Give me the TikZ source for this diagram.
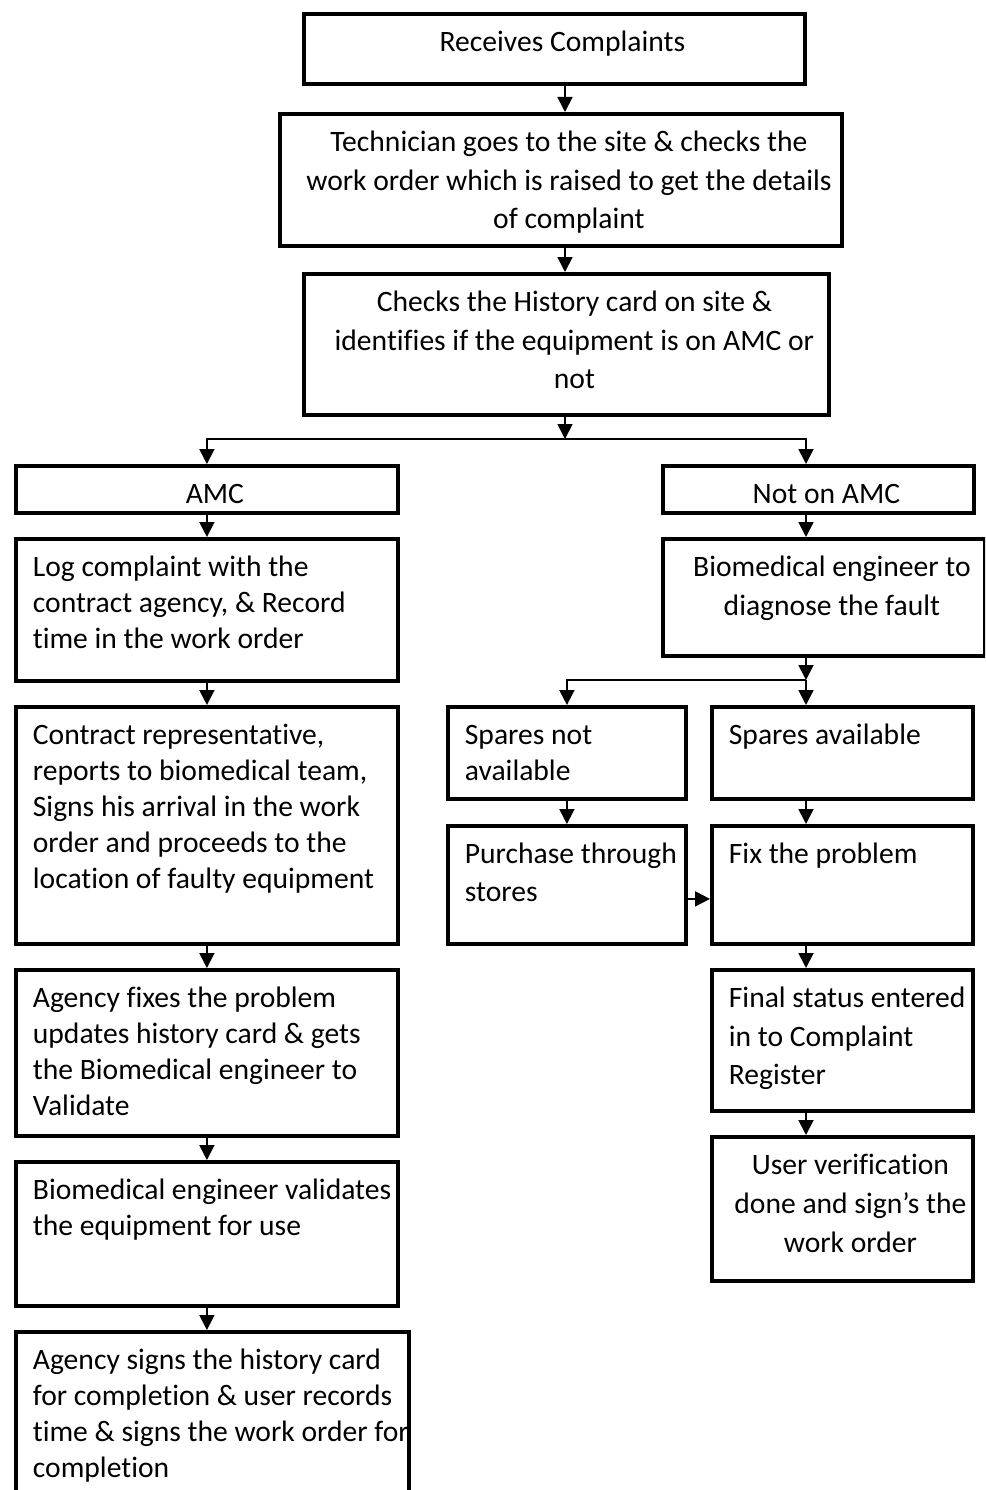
\documentclass[tikz,border=0pt]{standalone}
\usepackage{fontspec}
\setmainfont{Carlito}[Ligatures=NoCommon]
\usetikzlibrary{arrows.meta}

% text placement inside the boxes
\newcommand{\lefttext}{\raggedright\leftskip=17pt\rightskip=-40pt plus 1fil}
\newcommand{\midtext}{\centering\leftskip=16pt plus 1fil}
% #1 width, #2 height, #3 line spacing, #4 alignment, #5 lines
\newcommand{\cell}[5]{\parbox[c][#2pt][t]{#1pt}{\fontsize{29.6}{#3}\selectfont#4\rule{0pt}{38pt}#5\par}}

\begin{document}
\begin{tikzpicture}[x=1pt, y=-1pt,
    box/.style={draw, line width=3.8pt, inner sep=0pt, anchor=north west},
    flow/.style={line width=1.8pt, -{Triangle[length=15pt, width=15pt]}}]
  \clip (0,0) rectangle (985,1490);

  % trunk
  \node[box] (recv) at (302,12) {\cell{501}{70}{38.5}{\midtext}{Receives Complaints}};
  \node[box] (tech) at (278,112) {\cell{562}{132}{38.5}{\midtext}{Technician goes to the site \& checks the\\
    work order which is raised to get the details\\ of complaint}};
  \node[box] (checks) at (302,272) {\cell{525}{141}{38.5}{\midtext}{Checks the History card on site \&\\
    identifies if the equipment is on AMC or\\ not}};

  % AMC branch
  \node[box] (amc) at (14,464) {\cell{382}{47}{36}{\midtext}{AMC}};
  \node[box] (log) at (14,537) {\cell{382}{142}{36}{\lefttext}{Log complaint with the\\
    contract agency, \& Record\\ time in the work order}};
  \node[box] (contract) at (14,705) {\cell{382}{237}{36}{\lefttext}{Contract representative,\\
    reports to biomedical team,\\ Signs his arrival in the work\\ order and proceeds to the\\
    location of faulty equipment}};
  \node[box] (fixes) at (14,968) {\cell{382}{166}{36}{\lefttext}{Agency fixes the problem\\
    updates history card \& gets\\ the Biomedical engineer to\\ Validate}};
  \node[box] (validates) at (14,1160) {\cell{382}{144}{36}{\lefttext}{Biomedical engineer validates\\
    the equipment for use}};
  \node[box] (signs) at (14,1330) {\cell{393}{200}{36}{\lefttext}{Agency signs the history card\\
    for completion \& user records\\ time \& signs the work order for\\ completion}};

  % not on AMC branch
  \node[box] (notamc) at (661,464) {\cell{311}{47}{36}{\midtext}{Not on AMC}};
  \node[box] (biomed) at (661,537) {\cell{322}{117}{39}{\midtext}{Biomedical engineer to\\
    diagnose the fault}};
  \node[box] (sparesno) at (446,705) {\cell{238}{92}{36}{\lefttext}{Spares not\\ available}};
  \node[box] (sparesyes) at (710,705) {\cell{261}{92}{36}{\lefttext}{Spares available}};
  \node[box] (purchase) at (446,824) {\cell{238}{118}{38}{\lefttext}{Purchase through\\ stores}};
  \node[box] (fix) at (710,824) {\cell{261}{118}{38}{\lefttext}{Fix the problem}};
  \node[box] (final) at (710,968) {\cell{261}{141}{38.5}{\lefttext}{Final status entered\\
    in to Complaint\\ Register}};
  \node[box] (user) at (710,1135) {\cell{261}{144}{39}{\midtext}{User verification\\
    done and sign’s the\\ work order}};

  \coordinate (trunk) at (565,0);
  \coordinate (rtrunk) at (806,0);
  \coordinate (fork) at (565,439);
  \coordinate (rfork) at (806,680);

  \draw[flow] (recv.south -| trunk) -- (tech.north -| trunk);
  \draw[flow] (tech.south -| trunk) -- (checks.north -| trunk);
  \draw[flow] (checks.south -| trunk) -- (fork);
  \draw[flow] (fork) -| (amc.north);
  \draw[flow] (fork) -| (notamc.north -| rtrunk);

  \draw[flow] (amc) -- (log);
  \draw[flow] (log) -- (contract);
  \draw[flow] (contract) -- (fixes);
  \draw[flow] (fixes) -- (validates);
  \draw[flow] (validates.south) -- (signs.north -| validates.south);

  \draw[flow] (notamc.south -| rtrunk) -- (biomed.north -| rtrunk);
  \draw[flow] (biomed.south -| rtrunk) -- (rfork);
  \draw[flow] (rfork) -| (sparesno.north);
  \draw[flow] (rfork) -- (sparesyes.north -| rfork);
  \draw[flow] (sparesno) -- (purchase);
  \draw[flow] (sparesyes.south -| rtrunk) -- (fix.north -| rtrunk);
  \draw[flow] ([yshift=-14pt]purchase.east) -- ([yshift=-14pt]fix.west);
  \draw[flow] (fix.south -| rtrunk) -- (final.north -| rtrunk);
  \draw[flow] (final.south -| rtrunk) -- (user.north -| rtrunk);
\end{tikzpicture}
\end{document}
